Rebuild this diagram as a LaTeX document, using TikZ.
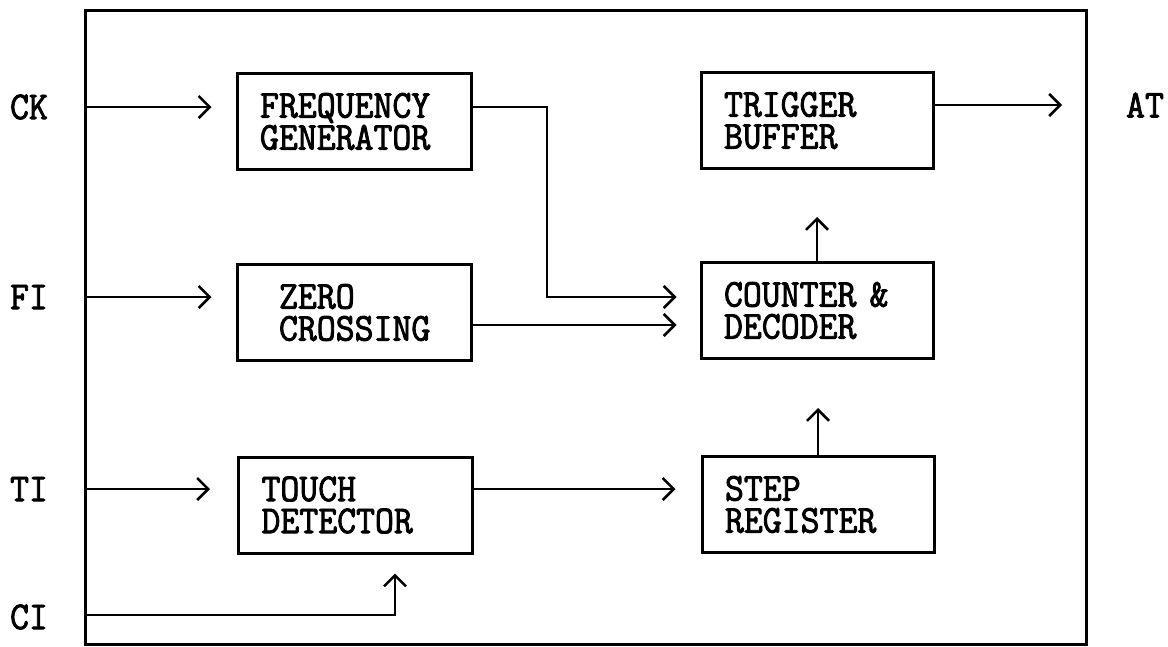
\documentclass[tikz,border=0pt]{standalone}
\usepackage{fontspec}
\newfontfamily\lblfont[FakeStretch=0.93,FakeBold=2.2]{Latin Modern Mono}
\usetikzlibrary{arrows.meta}
\begin{document}
\begin{tikzpicture}[x=1pt,y=-1pt,
  txt/.style={font=\lblfont\fontsize{39.5}{32}\selectfont},
  blk/.style={txt, draw, line width=3pt, inner ysep=0pt, inner xsep=23pt, minimum height=96pt, text width=188pt, align=left},
  rblk/.style={blk, text width=186pt},
  lbl/.style={txt, inner sep=0pt},
  conn/.style={line width=2pt, -{Straight Barb[length=11pt,width=22pt,line width=2.5pt]}}]
\useasboundingbox (0,0) rectangle (1168,646);
% frame
\draw[line width=3pt] (85,10) rectangle (1086,644);
% blocks
\node[blk] (fg) at (354,121.5) {FREQUENCY\\GENERATOR};
\node[blk] (zc) at (354,312.5) {\hspace*{19pt}ZERO\\\hspace*{19pt}CROSSING};
\node[blk] (td) at (355.5,505) {TOUCH\\DETECTOR};
\node[rblk] (tb) at (817,120.5) {TRIGGER\\BUFFER};
\node[rblk] (cd) at (817,310.5) {COUNTER \&\\DECODER};
\node[rblk] (sr) at (818,504.5) {STEP\\REGISTER};
% labels
\node[lbl] (lck) at (29,107) {CK};
\node[lbl] (lfi) at (29,297) {FI};
\node[lbl] (lti) at (29,489) {TI};
\node[lbl] (lci) at (29,617) {CI};
\node[lbl] (lat) at (1145,105) {AT};
% frame entry points
\coordinate (ck) at (85,107);
\coordinate (fi) at (85,297);
\coordinate (ti) at (85,489);
\coordinate (ci) at (85,615);
\coordinate (at) at (1086,105);
\coordinate (fgbend) at (547,297);
\coordinate (zcout) at (471,325);
\coordinate (cibend) at (395,615);
% connectors
\draw[conn, shorten >=24pt] (ck) -- (ck -| fg.west);
\draw[conn, shorten >=24pt] (fi) -- (fi -| zc.west);
\draw[conn, shorten >=27pt] (ti) -- (ti -| td.west);
\draw[conn, shorten >=19pt] (ci) -- (cibend) -- (cibend |- td.south);
\draw[conn, shorten >=23pt] (fg.east |- ck) -| (fgbend) -- (fgbend -| cd.west);
\draw[conn, shorten >=23pt] (zc.east |- zcout) -- (zcout -| cd.west);
\draw[conn, shorten >=25pt] (td.east |- ti) -- (ti -| sr.west);
\draw[conn, shorten >=48pt] (sr.north) -- (sr.north |- cd.south);
\draw[conn, shorten >=47pt] (cd.north) -- (cd.north |- tb.south);
\draw[conn, shorten >=24pt] (tb.east |- at) -- (at);
\end{tikzpicture}
\end{document}
